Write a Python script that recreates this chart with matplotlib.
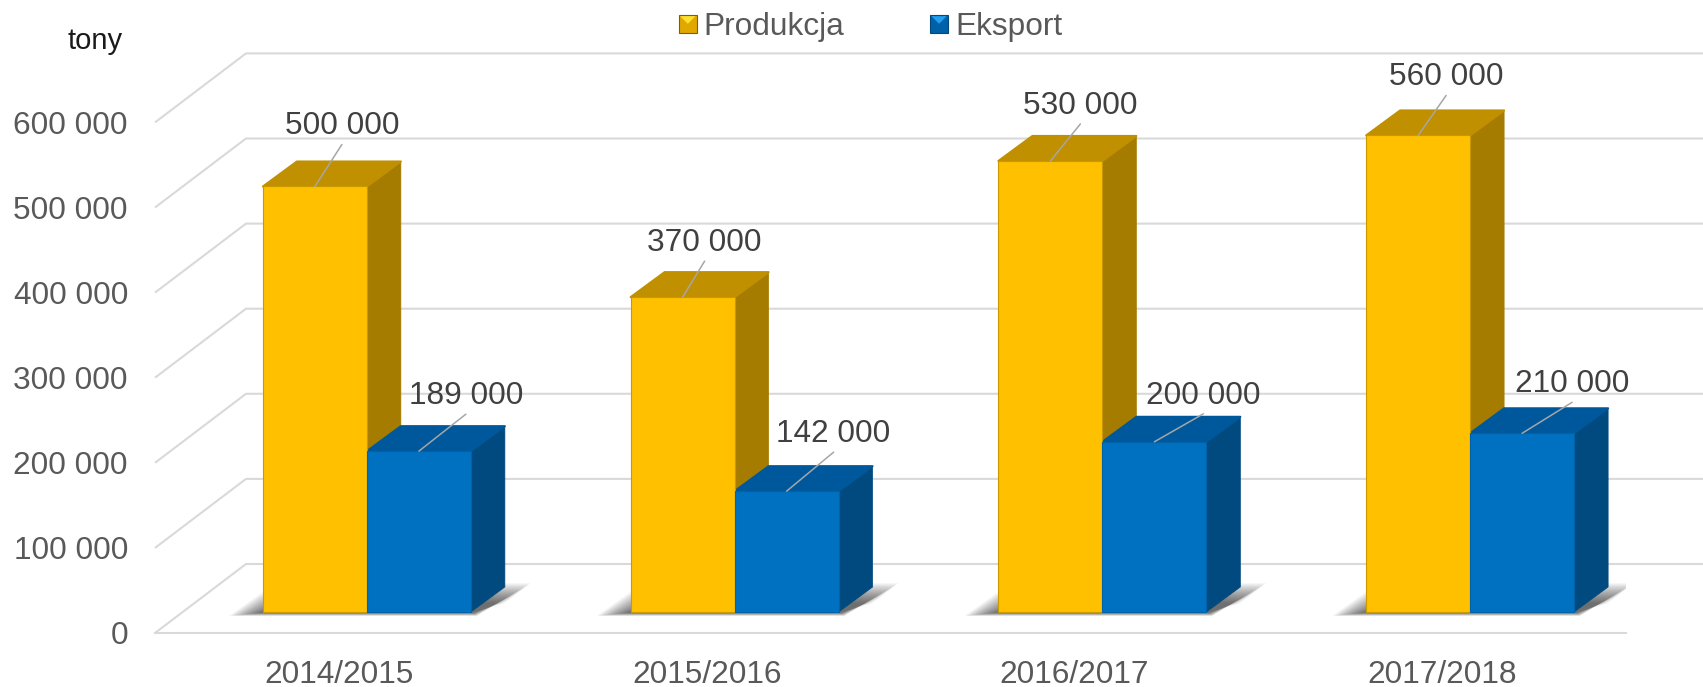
import matplotlib
matplotlib.use('Agg')
import matplotlib.pyplot as plt
from matplotlib.patches import Rectangle, Polygon
from matplotlib.legend_handler import HandlerPatch

plt.rcParams['font.family'] = ['Liberation Sans', 'DejaVu Sans']

seasons = ['2014/2015', '2015/2016', '2016/2017', '2017/2018']
produkcja = [500000, 370000, 530000, 560000]
eksport = [189000, 142000, 200000, 210000]
y_ticks = [0, 100000, 200000, 300000, 400000, 500000, 600000]
y_labels = ['0', '100 000', '200 000', '300 000', '400 000', '500 000', '600 000']

# label shifts in pixels from the middle of the bar top: (right, up)
prod_shift = [(27, 60), (22, 54), (30, 55), (28, 58)]
eks_shift = [(47, 55), (47, 57), (49, 46), (50, 49)]

W, H = 1703, 687
fig = plt.figure(figsize=(W / 100, H / 100), dpi=100)
ax = fig.add_axes([155 / W, (H - 633) / H, 1471 / W, 510.6 / H])
ax.set_xlim(-0.5, 3.5)
ax.set_ylim(0, 600000)
ax.patch.set_visible(False)

px_x = 4 / 1471
px_y = 600000 / 510.6

# oblique directions of the fake 3d
wall_dx, wall_dy = 91 * px_x, 69 * px_y
bar_dx, bar_dy = 34 * px_x, 25 * px_y
base = 21 * px_y
shift = 28 * px_x
bar_w = 104 * px_x

for v in y_ticks:
    xs = [-0.5, -0.5 + wall_dx, 3.5 + wall_dx]
    ys = [v, v + wall_dy, v + wall_dy]
    ax.plot(xs, ys, color='#D9D9D9', lw=1.5, clip_on=False, zorder=1, solid_capstyle='butt')
ax.plot([-0.5, 3.5], [0, 0], color='#D9D9D9', lw=1.5, clip_on=False, zorder=1)

# soft shadow on the floor, stacked see-through shapes
for i in range(len(seasons)):
    left = i + shift - bar_w
    right = i + shift + bar_w
    for k in range(24):
        g = 1 - k / 23
        low = base - (0.5 + 3.5 * g) * px_y
        high = base + bar_dy + (-16 + 20 * g) * px_y
        ax.add_patch(Polygon([(left - (2 + 32 * g) * px_x, low),
                              (right + (2 + 4 * g) * px_x, low),
                              (right + bar_dx + (1 + 25 * g) * px_x, high),
                              (left + bar_dx - (4 + 18 * g) * px_x, high)],
                             closed=True, fc='black', ec='none', alpha=0.03, zorder=2))


def box(x0, value, front, side, top, edge):
    x1 = x0 + bar_w
    y1 = base + value
    ax.bar(x0, value, width=bar_w, bottom=base, align='edge', color=front,
           edgecolor=edge, linewidth=0.8, zorder=5, clip_on=False)
    ax.add_patch(Polygon([(x1, base), (x1 + bar_dx, base + bar_dy), (x1 + bar_dx, y1 + bar_dy), (x1, y1)],
                         closed=True, fc=side, ec=side, lw=0.5, zorder=4, clip_on=False))
    ax.add_patch(Polygon([(x0, y1), (x0 + bar_dx, y1 + bar_dy), (x1 + bar_dx, y1 + bar_dy), (x1, y1)],
                         closed=True, fc=top, ec=top, lw=1.5, joinstyle='round', zorder=4, clip_on=False))


def label(x, value, offs):
    y = base + value
    ox, oy = offs
    ax.annotate('', xy=(x, y), xytext=(ox * 0.72, (oy - 18) * 0.72), textcoords='offset points',
                arrowprops=dict(arrowstyle='-', color='#A6A6A6', lw=1.1, shrinkA=0, shrinkB=0),
                zorder=7, annotation_clip=False)
    ax.annotate(f'{value:,}'.replace(',', ' '), xy=(x, y), xytext=(ox * 0.72, oy * 0.72),
                textcoords='offset points', ha='center', va='center', fontsize=22.8,
                color='#404040', zorder=8, annotation_clip=False)


for i in range(len(seasons)):
    box(i + shift - bar_w, produkcja[i], '#FFC000', '#A67C00', '#C09000', '#C89A00')
    box(i + shift, eksport[i], '#0070C0', '#004A7F', '#00589C', '#0062A8')
for i in range(len(seasons)):
    label(i + shift - bar_w / 2, produkcja[i], prod_shift[i])
    label(i + shift + bar_w / 2, eksport[i], eks_shift[i])

ax.set_xticks(range(len(seasons)))
ax.set_xticklabels(seasons, fontsize=22.8, color='#595959')
ax.set_yticks(y_ticks)
ax.set_yticklabels(y_labels, fontsize=22.8, color='#595959')
ax.tick_params(axis='y', length=0, pad=19.5)
ax.tick_params(axis='x', length=0, pad=19.5)
for s in ax.spines.values():
    s.set_visible(False)

fig.text(95 / W, 1 - 41 / H, 'tony', fontsize=21, color='#1A1A1A', ha='center', va='center')


class BevelHandler(HandlerPatch):
    def create_artists(self, legend, orig, xd, yd, width, height, fontsize, trans):
        x0 = -xd
        y0 = -yd + (height - width) / 2
        sq = Rectangle((x0, y0), width, width, fc=orig.get_facecolor(), ec=orig.get_edgecolor(),
                       lw=0.8, transform=trans)
        tri = Polygon([(x0 + 1, y0 + width - 1), (x0 + width - 1, y0 + width - 1), (x0 + width / 2, y0 + width / 2)],
                      closed=True, fc=orig.get_hatch() or 'white', ec='none', transform=trans)
        return [sq, tri]


h1 = Rectangle((0, 0), 1, 1, fc='#E0A800', ec='#7F6000', hatch='#FFE030')
h2 = Rectangle((0, 0), 1, 1, fc='#0060A8', ec='#004A7F', hatch='#20A0F0')
fig.legend([h1, h2], ['Produkcja', 'Eksport'], loc='center', bbox_to_anchor=(870.5 / W, 1 - 27 / H),
           ncol=2, frameon=False, fontsize=22.8, labelcolor='#595959', handlelength=0.57, handleheight=0.57,
           handletextpad=0.22, columnspacing=2.7, borderpad=0, borderaxespad=0,
           handler_map={Rectangle: BevelHandler()})

fig.savefig('out.png', dpi=100)
